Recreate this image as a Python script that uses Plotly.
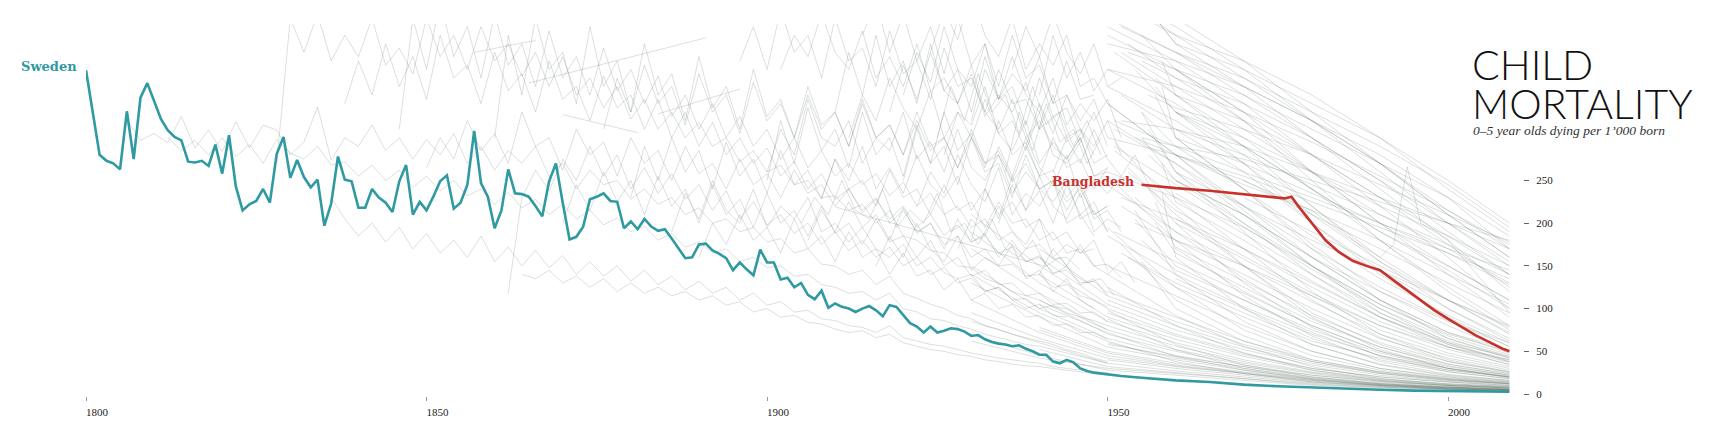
import plotly.graph_objects as go

# ---------------- data ----------------
sweden_years = [1800] + list(range(1802, 1947)) + [1947, 1948, 1950, 1952, 1955, 1960, 1965, 1970, 1975, 1980, 1985, 1990, 1995, 2000, 2005, 2009]
sweden_values = [379,
    280, 273, 270, 263, 331, 275, 347, 364, 344, 322,
    309, 301, 297, 272, 271, 273, 267, 292, 258, 303,
    243, 215, 222, 226, 240, 224, 281, 301, 253, 274,
    254, 242, 251, 197, 223, 278, 251, 249, 218, 218,
    240, 230, 224, 213, 249, 268, 210, 225, 215, 231,
    249, 256, 217, 224, 245, 308, 247, 231, 194, 215,
    263, 235, 234, 231, 220, 208, 249, 270, 224, 181,
    184, 196, 228, 231, 235, 226, 225, 194, 202, 193,
    205, 196, 191, 193, 182, 171, 159, 160, 175, 176,
    168, 164, 159, 145, 154, 146, 139, 169, 154, 154,
    134, 136, 125, 130, 116, 111, 121, 101, 106, 102,
    100, 96, 100, 103, 98, 91, 104, 102, 92, 83,
    79, 72, 79, 72, 74, 77, 76, 73, 68, 69,
    64, 61, 59, 58, 56, 57, 53, 50, 46, 46,
    38, 36, 40, 37, 30,
    27, 25, 23, 21, 19, 16, 14, 11, 9, 7.5, 6, 5, 4, 3.5, 3, 2.8]

bangladesh_years = [1955, 1960, 1965, 1970, 1974, 1976, 1977, 1978, 1980, 1982, 1984, 1986, 1988,
                    1990, 1992, 1994, 1996, 1998, 2000, 2002, 2004, 2006, 2008, 2009]
bangladesh_values = [245, 241, 238, 234, 230, 229, 231, 220, 200, 180, 166, 156, 150,
                     145, 133, 121, 109, 98, 88, 78, 69, 61, 53, 50]

# historical countries: first year, values every 2 years
historic_start = [1806, 1812, 1828, 1836, 1862, 1864, 1838, 1846, 1850, 1860, 1870, 1876,
                  1880, 1896, 1900, 1910, 1920, 1930, 1906, 1890, 1914, 1925, 1935, 1940,
                  1900, 1902, 1905, 1912, 1916, 1920, 1922, 1924, 1926, 1928, 1930, 1932,
                  1934, 1936, 1938, 1940, 1942, 1908, 1918, 1886]
historic_values = [
    [321, 297, 305, 294, 325, 288, 309, 284, 319, 288, 315, 309, 280, 295, 336, 274, 300, 290, 315, 285,
     300, 275, 298, 280, 305, 270, 290, 262, 285, 270, 290, 255, 270, 240, 262, 245, 250, 228, 240, 222,
     230, 210, 218, 200, 205, 190, 195, 178, 182, 165, 170, 152, 150, 140, 145, 128, 138, 118, 112, 105,
     100, 92, 88, 80, 76, 70, 66, 62, 58, 52, 48, 42, 38],
    [300, 285, 297, 280, 300, 278, 292, 270, 298, 282, 275, 290, 268, 272, 255, 268, 250, 262, 242, 255,
     238, 250, 232, 240, 222, 236, 218, 228, 210, 222, 205, 215, 198, 206, 190, 196, 180, 188, 172, 178,
     165, 170, 155, 160, 148, 150, 138, 140, 128, 125, 118, 120, 110, 118, 100, 96, 88, 86, 80, 76,
     70, 66, 62, 58, 56, 52, 48, 44, 40, 36],
    [270, 440, 400, 445, 390, 420, 395, 440, 385, 405, 375, 440, 395, 420, 380, 430, 390, 410, 372, 400,
     360, 395, 350, 370, 335, 360, 322, 345, 310, 330, 300, 318, 290, 300, 272, 285, 260, 268, 245, 250,
     230, 232, 215, 222, 200, 215, 185, 180, 168, 165, 150, 148, 135, 130, 120, 115, 110, 102, 100, 90,
     82, 75],
    [230, 205, 185, 200, 178, 195, 170, 188, 165, 180, 160, 185, 155, 172, 150, 168, 148, 162, 140, 155,
     138, 150, 132, 145, 128, 138, 122, 132, 118, 125, 110, 118, 104, 108, 96, 98, 88, 86, 80, 78,
     72, 80, 66, 62, 58, 56, 52, 48, 45, 42, 40, 38, 36, 32, 30, 28, 26, 25],
    [118, 230, 262, 238, 275, 250, 290, 255, 280, 240, 265, 235, 258, 228, 245, 215, 238, 205, 225, 198,
     210, 188, 200, 175, 190, 168, 180, 160, 172, 150, 160, 140, 148, 130, 136, 120, 125, 110, 112, 100,
     104, 95, 90, 86, 80],
    [140, 135, 145, 130, 138, 125, 135, 120, 130, 118, 125, 115, 120, 110, 115, 104, 108, 96, 100, 90,
     92, 84, 82, 76, 72, 74, 66, 70, 60, 56, 52, 50, 46, 44, 40, 38, 35, 33, 32, 30, 28, 26, 24, 22],
    [340, 390, 350, 410, 360, 395, 345, 420, 370, 385, 340, 400, 355, 375, 330, 390, 345, 360, 320, 372,
     335, 350, 310, 345, 300, 330, 290, 318, 280, 300, 270, 288, 255, 272, 240, 258, 228, 240, 215, 230,
     200, 215, 190, 200, 175, 185, 160, 170, 150, 152, 138, 140, 125, 128, 115, 110, 102],
    [310, 440, 380, 460, 395, 430, 370, 445, 385, 410, 360, 425, 370, 395, 350, 405, 355, 380, 340, 372,
     325, 350, 310, 340, 300, 325, 290, 310, 275, 300, 265, 285, 255, 270, 245, 258, 232, 248, 220, 235,
     210, 220, 195, 205, 180, 190, 170, 175, 158, 160, 145],
    [265, 300, 275, 320, 285, 305, 270, 330, 290, 300, 262, 310, 280, 295, 255, 300, 270, 285, 250, 290,
     258, 270, 240, 275, 245, 258, 230, 262, 235, 245, 220, 240, 212, 228, 205, 220, 195, 210, 186, 198,
     178, 185, 165, 172, 155, 160, 142, 145, 130, 132, 118],
    [300, 420, 350, 440, 380, 400, 340, 430, 360, 390, 330, 410, 350, 375, 320, 395, 335, 360, 310, 380,
     325, 345, 300, 360, 315, 330, 290, 345, 300, 315, 280, 330, 290, 300, 265, 310, 270, 285, 250, 290,
     255, 262, 230, 250, 210, 220],
    [200, 245, 215, 260, 225, 250, 210, 255, 220, 240, 200, 245, 210, 228, 195, 235, 200, 215, 185, 220,
     188, 200, 175, 205, 178, 185, 160, 180, 150, 160, 138, 145, 128, 130, 115, 118, 105, 106, 95, 96, 85],
    [310, 370, 330, 385, 340, 360, 315, 375, 330, 350, 305, 365, 320, 340, 300, 350, 310, 330, 290, 340,
     300, 315, 280, 320, 285, 300, 265, 300, 270, 280, 248, 270, 240, 250, 225, 240, 210, 220],
    [230, 290, 250, 300, 260, 285, 240, 295, 255, 275, 235, 285, 245, 262, 228, 275, 240, 250, 220, 262,
     230, 240, 210, 245, 215, 225, 195, 225, 200, 205, 180, 190, 165, 170, 150, 152, 136],
    [390, 430, 380, 450, 400, 420, 370, 440, 390, 405, 360, 425, 375, 390, 345, 405, 360, 370, 330, 380,
     340, 345, 310, 350, 300, 310, 270, 280],
    [250, 320, 270, 335, 285, 310, 265, 330, 280, 300, 255, 315, 270, 290, 245, 300, 260, 270, 230, 280,
     240, 250, 215, 245, 205, 215, 190],
    [330, 400, 350, 420, 360, 390, 340, 410, 355, 380, 330, 395, 345, 360, 315, 370, 325, 335, 295, 330, 290],
    [250, 310, 270, 330, 285, 305, 265, 320, 280, 295, 255, 300, 265, 275, 240, 265],
    [180, 240, 205, 255, 215, 238, 200, 245, 210, 225, 190],
    [180, 215, 190, 225, 195, 210, 180, 218, 188, 200, 170, 205, 178, 188, 160, 180, 155, 162, 140, 150,
     128, 135, 115],
    [160, 200, 175, 210, 180, 195, 165, 205, 170, 185, 155, 190, 160, 170, 140, 165, 138, 145, 122, 135,
     110, 118, 100, 105, 90, 92, 80, 82, 72, 72, 64],
    [420, 460, 400, 445, 390, 430, 375, 440, 385, 410, 360, 420, 370, 385, 340, 390, 345, 350],
    [300, 360, 320, 375, 330, 350, 305, 360, 315, 330, 290, 320, 280],
    [260, 330, 285, 340, 295, 310, 270, 300],
    [350, 420, 370, 400, 355, 380],
    [260, 310, 280, 345, 300, 290, 320, 270, 300, 285, 330, 275, 295, 260, 310, 265, 250, 280, 235, 260,
     240, 225, 250, 205, 215, 190],
    [380, 420, 395, 445, 400, 380, 425, 370, 395, 360, 410, 355, 370, 340, 385, 330, 310, 345, 300, 320,
     290, 275, 300, 255, 265],
    [200, 230, 210, 250, 215, 205, 240, 195, 215, 200, 235, 190, 200, 175, 205, 170, 160, 180, 150, 160,
     140, 130, 135, 115],
    [300, 350, 320, 370, 335, 310, 355, 300, 330, 315, 360, 305, 320, 285, 330, 280, 270, 295],
    [150, 185, 160, 200, 170, 155, 185, 145, 160, 150, 175, 135, 145, 120, 135, 110, 100],
    [350, 400, 365, 430, 380, 360, 410, 345, 375, 355, 395, 340, 350, 320, 345, 300],
    [220, 260, 235, 280, 245, 225, 265, 210, 235, 220, 250, 200, 210, 185],
    [400, 450, 415, 470, 420, 395, 440, 380, 410, 385, 420, 360, 370, 340],
    [280, 330, 300, 345, 305, 285, 320, 270, 295, 275, 300, 255, 260],
    [170, 205, 185, 220, 190, 175, 205, 160, 175, 165, 180, 145],
    [320, 380, 345, 395, 350, 330, 370, 315, 340, 320, 345, 300],
    [240, 290, 255, 300, 265, 245, 280, 230, 250, 235, 255],
    [200, 245, 215, 255, 220, 205, 235, 190, 205, 195],
    [380, 430, 395, 445, 400, 375, 410, 360, 370],
    [290, 340, 305, 350, 310, 290, 320, 280],
    [140, 170, 150, 175, 150, 140, 155, 130],
    [260, 300, 270, 310, 275, 255, 280, 245],
    [230, 275, 250, 290, 240, 265, 235, 280, 245, 230, 255, 215, 240, 210, 225, 195, 205, 180, 190, 165, 170],
    [330, 385, 345, 400, 355, 340, 375, 325, 350, 330, 365, 310, 325, 295, 310, 280],
    [190, 235, 205, 250, 215, 200, 240, 195, 220, 205, 230, 190, 200, 178, 195, 170, 160, 175, 150, 160,
     142, 135, 140, 120, 125, 110, 100, 105, 92, 90],
]

# a few countries with only sparse early records
sparse_years = [[1857, 1866], [1865, 1891], [1870, 1881], [1884, 1896], [1910, 1941]]
sparse_values = [[400, 414], [364, 417], [327, 306], [328, 357], [219, 149]]

# low-mortality countries, with records reaching back before 1950
modern_low_years = [1930, 1940, 1950, 1960, 1970, 1980, 1990, 2000, 2009]
modern_low = [
    [70, 45, 28, 22, 16, 10, 7, 5, 4], [None, 52, 32, 25, 18, 11, 8, 6, 4],
    [85, 60, 36, 27, 20, 13, 9, 6, 5], [None, None, 40, 30, 22, 14, 10, 7, 5],
    [110, 72, 45, 33, 24, 15, 10, 7, 5], [None, 78, 50, 36, 26, 17, 11, 8, 6],
    [130, 90, 55, 40, 28, 18, 12, 8, 6], [None, None, 60, 42, 30, 19, 12, 8, 6],
    [150, 100, 65, 45, 32, 20, 13, 9, 7], [None, 110, 70, 50, 34, 22, 14, 10, 7],
    [170, 118, 75, 52, 36, 24, 15, 10, 8], [None, None, 80, 56, 38, 25, 16, 11, 8],
    [190, 130, 85, 60, 40, 26, 17, 12, 9], [None, 140, 90, 64, 44, 28, 18, 12, 9],
    [None, None, 95, 68, 46, 30, 20, 14, 10], [210, 150, 100, 70, 48, 30, 20, 14, 10],
    [None, 160, 105, 75, 52, 34, 22, 15, 11], [None, None, 110, 80, 55, 36, 24, 16, 12],
    [None, 170, 115, 85, 58, 38, 25, 17, 12], [None, None, 120, 90, 62, 40, 26, 18, 13],
    [62, 42, 30, 24, 18, 12, 8, 5, 3], [95, 65, 42, 32, 24, 16, 11, 7, 5],
    [None, 75, 48, 34, 25, 16, 10, 6, 4], [None, None, 58, 44, 32, 22, 15, 10, 7],
    [140, 95, 62, 38, 24, 14, 9, 6, 4], [None, 105, 72, 44, 28, 17, 10, 6, 4],
    [None, None, 88, 52, 30, 18, 11, 7, 5], [None, None, 98, 58, 34, 20, 12, 8, 5],
    [None, None, 125, 80, 48, 28, 16, 10, 7], [None, None, 140, 92, 56, 32, 18, 11, 8],
]

# other countries: first recorded year, then values at 1950(first), 1960 ... 2009
modern_years = [1950, 1960, 1970, 1980, 1990, 2000, 2009]
modern_mid_first = [1950, 1953, 1950, 1955, 1951, 1957, 1950, 1952, 1954, 1956, 1950, 1953, 1958, 1950,
                    1951, 1955, 1952, 1950, 1954, 1957, 1950, 1953, 1951, 1956, 1950, 1955, 1952, 1950,
                    1954, 1958, 1950, 1953, 1951, 1955, 1950, 1957, 1952, 1950, 1954, 1956]
modern_mid = [
    [150, 115, 80, 50, 30, 20, 14], [160, 125, 90, 58, 35, 22, 16], [None, 135, 100, 65, 40, 26, 18],
    [180, 145, 110, 72, 45, 28, 20], [190, 155, 118, 80, 50, 32, 22], [200, 165, 125, 85, 55, 35, 24],
    [None, 172, 132, 92, 60, 38, 26], [220, 180, 140, 100, 65, 42, 28], [230, 190, 150, 108, 70, 45, 30],
    [240, 200, 158, 115, 75, 48, 32], [None, 205, 162, 118, 80, 52, 35], [260, 215, 170, 125, 85, 55, 37],
    [270, 225, 180, 132, 90, 58, 40], [None, 235, 188, 140, 95, 62, 42], [290, 245, 195, 146, 100, 65, 44],
    [300, 250, 200, 150, 105, 68, 46], [165, 130, 95, 62, 42, 28, 20], [185, 140, 102, 70, 45, 30, 21],
    [205, 150, 110, 75, 48, 30, 20], [225, 170, 120, 80, 50, 30, 19], [245, 190, 135, 88, 55, 33, 22],
    [265, 210, 150, 95, 58, 35, 23], [285, 230, 170, 110, 66, 38, 25], [310, 260, 200, 140, 90, 55, 34],
    [320, 270, 210, 150, 100, 60, 38], [155, 100, 62, 38, 24, 16, 12], [175, 110, 68, 40, 26, 17, 12],
    [195, 125, 75, 45, 28, 18, 13], [215, 140, 85, 50, 30, 19, 14], [235, 160, 100, 58, 34, 21, 15],
    [255, 180, 115, 68, 38, 23, 16], [None, 200, 130, 78, 44, 26, 18], [295, 220, 150, 90, 52, 30, 20],
    [330, 260, 190, 120, 70, 40, 26], [340, 280, 215, 150, 95, 58, 38], [350, 300, 240, 170, 110, 65, 42],
    [230, 205, 170, 130, 90, 60, 44], [260, 230, 195, 150, 105, 70, 50], [200, 180, 150, 115, 80, 55, 40],
    [280, 250, 210, 160, 110, 72, 52],
]
modern_high_first = [1950, 1952, 1955, 1950, 1953, 1957, 1950, 1951, 1954, 1956, 1950, 1953, 1958, 1950,
                     1952, 1955, 1951, 1950, 1954, 1957, 1950, 1953, 1950, 1956, 1952, 1955, 1950, 1951,
                     1954, 1958, 1950, 1953, 1952, 1950, 1955, 1957, 1950, 1951, 1954, 1956, 1950, 1953,
                     1952, 1955, 1950]
modern_high = [
    [380, 340, 290, 240, 190, 150, 110], [400, 360, 310, 260, 210, 170, 130], [420, 380, 330, 280, 230, 185, 140],
    [440, 400, 350, 300, 250, 200, 155], [460, 420, 370, 320, 270, 215, 170], [360, 330, 300, 260, 220, 185, 150],
    [None, 310, 280, 245, 210, 175, 140], [320, 290, 260, 230, 200, 170, 145], [300, 280, 255, 225, 195, 165, 135],
    [450, 410, 360, 300, 240, 180, 120], [430, 390, 340, 280, 220, 160, 100], [410, 370, 320, 260, 200, 140, 90],
    [390, 350, 300, 240, 180, 125, 80], [None, 330, 280, 220, 160, 110, 70], [350, 310, 260, 200, 145, 100, 65],
    [330, 290, 240, 185, 135, 92, 60], [310, 270, 220, 170, 125, 86, 56], [470, 430, 380, 320, 260, 200, 150],
    [480, 440, 390, 330, 270, 210, 160], [440, 410, 380, 340, 300, 250, 200], [None, 400, 370, 330, 290, 245, 195],
    [400, 380, 350, 310, 270, 230, 185], [380, 360, 330, 295, 255, 215, 175], [350, 335, 310, 280, 245, 210, 178],
    [320, 310, 290, 260, 230, 200, 170], [300, 290, 275, 250, 225, 200, 180], [420, 380, 320, 250, 180, 120, 75],
    [400, 350, 290, 220, 155, 100, 62], [380, 330, 270, 200, 140, 90, 55], [360, 300, 240, 175, 120, 80, 50],
    [340, 280, 220, 160, 110, 72, 48], [450, 420, 390, 350, 300, 240, 190], [430, 400, 360, 320, 280, 230, 170],
    [410, 390, 360, 320, 270, 210, 160], [390, 370, 340, 300, 250, 190, 140], [370, 350, 320, 280, 230, 175, 125],
    [None, 300, 270, 235, 200, 165, 128], [None, 280, 250, 215, 180, 140, 105], [None, 330, 290, 240, 190, 145, 100],
    [None, 260, 220, 180, 145, 110, 80], [None, None, 250, 210, 170, 130, 95], [None, None, 230, 190, 150, 110, 78],
    [None, 380, 330, 260, 200, 150, 110], [None, 250, 210, 160, 120, 85, 60], [360, 320, 270, 210, 155, 110, 72],
]
rwanda_years = [1950, 1960, 1970, 1980, 1985, 1990, 1992, 1994, 1996, 2000, 2009]
rwanda_values = [300, 280, 245, 215, 185, 160, 175, 266, 200, 180, 95]

x_ticks = [1800, 1850, 1900, 1950, 2000]
y_ticks = [0, 50, 100, 150, 200, 250]

# ---------------- layout constants ----------------
W, H = 1721, 436
ML, MR, MT, MB = 85.5, 198, 24, 40
PW, PH = W - ML - MR, H - MT - MB
GREY = "rgba(82,98,86,0.25)"
TEAL = "#2f9aa1"
RED = "#c8322d"
GREY_LINE = dict(color=GREY, width=0.8)


def paper(x_px, y_px):
    return (x_px - ML) / PW, (MT + PH - y_px) / PH


fig = go.Figure()

for start, vals in zip(historic_start, historic_values):
    yrs = [start + 2 * i for i in range(len(vals))]
    fig.add_trace(go.Scatter(x=yrs, y=vals, mode="lines", line=GREY_LINE, hoverinfo="skip"))

for yrs, vals in zip(sparse_years, sparse_values):
    fig.add_trace(go.Scatter(x=yrs, y=vals, mode="lines", line=GREY_LINE, hoverinfo="skip"))

for vals in modern_low:
    fig.add_trace(go.Scatter(x=modern_low_years, y=vals, mode="lines", line=GREY_LINE, hoverinfo="skip"))

for firsts, group in ((modern_mid_first, modern_mid), (modern_high_first, modern_high)):
    for first, vals in zip(firsts, group):
        yrs = [first] + modern_years[1:] if vals[0] is not None else modern_years
        fig.add_trace(go.Scatter(x=yrs, y=vals, mode="lines", line=GREY_LINE, hoverinfo="skip"))

fig.add_trace(go.Scatter(x=rwanda_years, y=rwanda_values, mode="lines", line=GREY_LINE, hoverinfo="skip"))

fig.add_trace(go.Scatter(x=sweden_years, y=sweden_values, mode="lines",
                         line=dict(color=TEAL, width=2.6), name="Sweden"))
fig.add_trace(go.Scatter(x=bangladesh_years, y=bangladesh_values, mode="lines",
                         line=dict(color=RED, width=2.6), name="Bangladesh"))

annotations = []
annotations.append(dict(x=sweden_years[0], y=sweden_values[0], xref="x", yref="y",
                        text="Sweden", showarrow=False, xanchor="right", yanchor="middle",
                        xshift=-7, yshift=4,
                        font=dict(family="DejaVu Serif", size=13, color=TEAL, weight="bold")))
annotations.append(dict(x=bangladesh_years[0], y=bangladesh_values[0], xref="x", yref="y",
                        text="Bangladesh", showarrow=False, xanchor="right", yanchor="middle",
                        xshift=-6, yshift=3,
                        font=dict(family="DejaVu Serif", size=12.5, color=RED, weight="bold")))

tx, ty = paper(1470, 64)
annotations.append(dict(x=tx, y=ty, xref="paper", yref="paper", text="CHILD", showarrow=False,
                        xanchor="left", yanchor="middle",
                        font=dict(family="Lato", size=41, weight=300, color="#111")))
tx, ty = paper(1470, 103)
annotations.append(dict(x=tx, y=ty, xref="paper", yref="paper", text="MORTALITY", showarrow=False,
                        xanchor="left", yanchor="middle",
                        font=dict(family="Lato", size=41, weight=300, color="#111")))
tx, ty = paper(1471, 130)
annotations.append(dict(x=tx, y=ty, xref="paper", yref="paper",
                        text="0–5 year olds dying per 1’000 born", showarrow=False,
                        xanchor="left", yanchor="middle",
                        font=dict(family="Liberation Serif", size=13.5, style="italic", color="#333")))

fig.update_layout(
    width=W, height=H,
    margin=dict(l=ML, r=MR, t=MT, b=MB, pad=0),
    paper_bgcolor="white", plot_bgcolor="white",
    showlegend=False, hovermode=False,
    annotations=annotations,
    xaxis=dict(range=[1800, 2011], tickvals=x_ticks, ticktext=[str(t) for t in x_ticks],
               showgrid=False, zeroline=False, showline=False,
               ticks="outside", ticklen=4, tickwidth=1, tickcolor="#999",
               ticklabelshift=11, ticklabelstandoff=2,
               tickfont=dict(family="Liberation Serif", size=11, color="#222")),
    yaxis=dict(range=[-2.34, 433.2], tickvals=y_ticks, ticktext=[str(t) for t in y_ticks],
               side="right", showgrid=False, zeroline=False, showline=False,
               ticks="outside", ticklen=5, tickwidth=1, tickcolor="#666",
               ticklabelstandoff=5,
               tickfont=dict(family="Liberation Serif", size=11, color="#222")),
)

fig.write_html("out.html")
